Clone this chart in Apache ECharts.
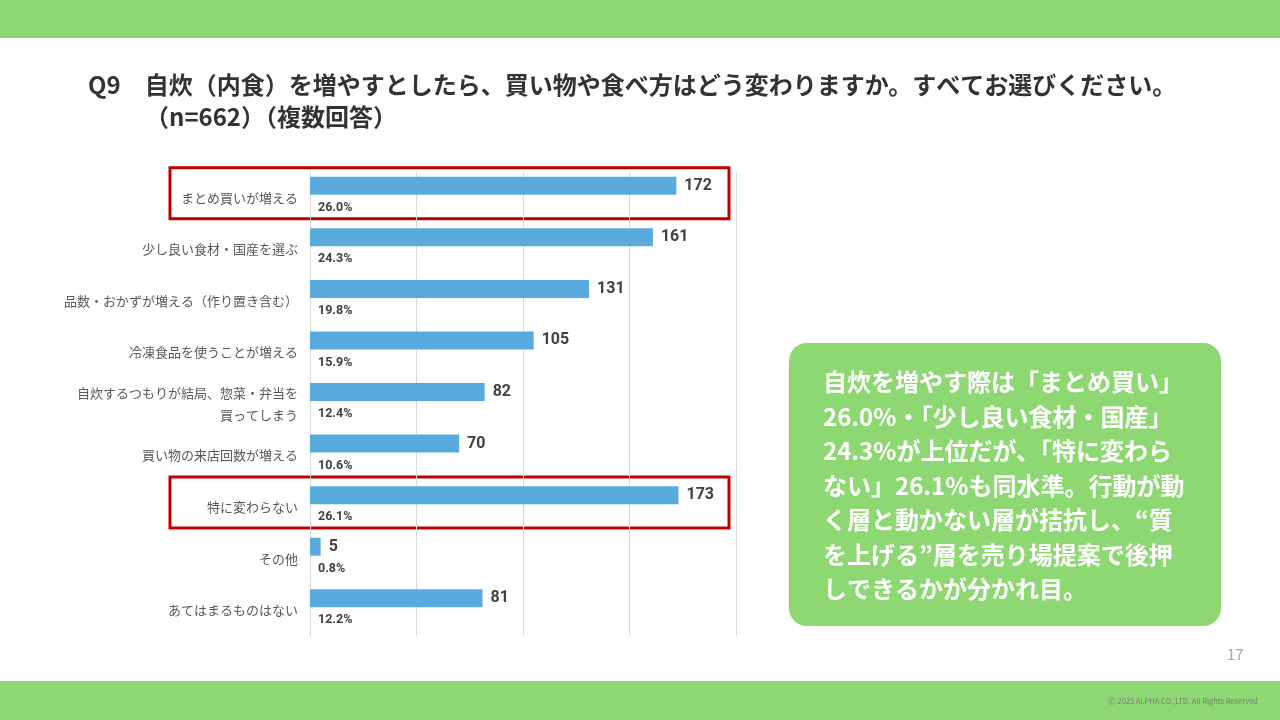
<!DOCTYPE html>
<html>
<head>
<meta charset="utf-8">
<script src="https://cdn.jsdelivr.net/npm/echarts@6/dist/echarts.min.js"></script>
<style>
  html, body { margin: 0; padding: 0; background: #ffffff; }
  #chart { width: 1280px; height: 720px; }
</style>
</head>
<body>
<div id="chart"></div>
<script>
// データ
const categories = [
  "まとめ買いが増える",
  "少し良い食材・国産を選ぶ",
  "品数・おかずが増える（作り置き含む）",
  "冷凍食品を使うことが増える",
  "自炊するつもりが結局、惣菜・弁当を\n買ってしまう",
  "買い物の来店回数が増える",
  "特に変わらない",
  "その他",
  "あてはまるものはない"
];
const counts = [172, 161, 131, 105, 82, 70, 173, 5, 81];
const percents = ["26.0%", "24.3%", "19.8%", "15.9%", "12.4%", "10.6%", "26.1%", "0.8%", "12.2%"];
const highlighted = ["まとめ買いが増える", "特に変わらない"];
const xTicks = [0, 50, 100, 150, 200];

const titleLine1 = "Q9　自炊（内食）を増やすとしたら、買い物や食べ方はどう変わりますか。すべてお選びください。";
const titleLine2 = "（n=662）（複数回答）";
const commentLines = [
  "自炊を増やす際は「まとめ買い」",
  "26.0%・「少し良い食材・国産」",
  "24.3%が上位だが、「特に変わら",
  "ない」26.1%も同水準。行動が動",
  "く層と動かない層が拮抗し、“質",
  "を上げる”層を売り場提案で後押",
  "しできるかが分かれ目。"
];

const green = "#8ed873";
const jpFont = '"Noto Sans CJK JP", "Noto Sans", sans-serif';
const numFont = '"Liberation Sans Narrow", "Roboto", "Noto Sans CJK JP", sans-serif';

const chart = echarts.init(document.getElementById("chart"), null, { renderer: "canvas" });

// 背景や説明テキスト
const baseGraphics = [
  { type: "rect", shape: { x: 0, y: 0, width: 1280, height: 38 }, style: { fill: green }, silent: true },
  { type: "rect", shape: { x: 0, y: 681, width: 1280, height: 39 }, style: { fill: green }, silent: true },
  {
    type: "text", left: 88, top: 73,
    style: { text: titleLine1, font: 'bold 24px ' + jpFont, fill: "#333333" }
  },
  {
    type: "text", left: 145, top: 105,
    style: { text: titleLine2, font: 'bold 24px ' + jpFont, fill: "#333333" }
  },
  {
    type: "rect", shape: { x: 789, y: 343, width: 432, height: 283, r: 18 },
    style: { fill: green }, silent: true
  },
  {
    type: "text", left: 823, top: 365,
    style: {
      text: commentLines.join("\n"),
      font: 'bold 24px ' + jpFont,
      lineHeight: 34.5,
      fill: "#ffffff"
    }
  },
  {
    type: "text", left: 1227, top: 647,
    style: { text: "17", font: '15px ' + jpFont, fill: "#a6a6a6" }
  },
  {
    type: "text", right: 22, top: 697,
    style: { text: "Ⓒ 2025 ALPHA CO.,LTD. All Rights Reserved", font: '7.5px ' + jpFont, fill: "#777777" }
  }
];

const option = {
  animation: false,
  grid: { left: 310, right: 544, top: 172, bottom: 84, containLabel: false },
  xAxis: {
    type: "value",
    min: xTicks[0],
    max: xTicks[xTicks.length - 1],
    interval: 50,
    axisLabel: { show: false },
    axisLine: { show: false },
    axisTick: { show: false },
    splitLine: { show: true, lineStyle: { color: "#d9d9d9", width: 1 } }
  },
  yAxis: {
    type: "category",
    data: categories,
    inverse: true,
    axisTick: { show: false },
    axisLine: { show: true, lineStyle: { color: "#d9d9d9", width: 1 } },
    axisLabel: {
      color: "#595959",
      fontSize: 13,
      fontFamily: jpFont,
      margin: 12,
      lineHeight: 22,
      align: "right",
      padding: [0, 0, 5, 0]
    }
  },
  series: [
    {
      name: "件数",
      type: "bar",
      data: counts,
      barWidth: 18,
      barGap: "33%",
      itemStyle: { color: "#5aabdd" },
      label: {
        show: true,
        position: "right",
        distance: 8,
        color: "#404040",
        fontSize: 16,
        fontWeight: "bold",
        fontFamily: numFont
      }
    },
    {
      name: "割合",
      type: "bar",
      data: counts,
      barWidth: 18,
      itemStyle: { color: "rgba(0,0,0,0)" },
      silent: true,
      label: {
        show: true,
        position: "insideLeft",
        distance: 8,
        offset: [0, -2],
        color: "#404040",
        fontSize: 12.5,
        fontWeight: "bold",
        fontFamily: numFont,
        formatter: function (params) {
          return percents[params.dataIndex];
        }
      }
    }
  ],
  graphic: baseGraphics
};

chart.setOption(option);

// 強調する項目に赤い枠を描く
const boxes = highlighted.map(function (name) {
  const cy = chart.convertToPixel({ yAxisIndex: 0 }, name);
  return {
    type: "rect",
    shape: { x: 170, y: cy - 30, width: 559, height: 51 },
    style: { fill: "none", stroke: "#c00000", lineWidth: 3 },
    silent: true
  };
});

chart.setOption({ graphic: baseGraphics.concat(boxes) });
</script>
</body>
</html>
